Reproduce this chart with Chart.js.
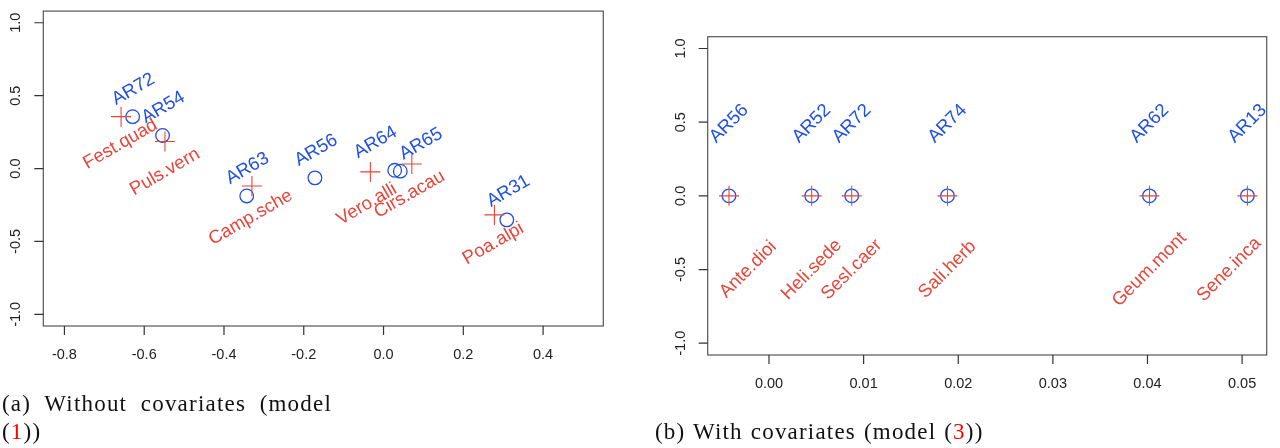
<!DOCTYPE html>
<html lang="en">
<head>
  <meta charset="UTF-8">
  <title>Ordination with and without covariates</title>
  <script src="https://cdn.jsdelivr.net/npm/chart.js"></script>
  <style>
    body {
      margin: 0;
      background: #fff;
      width: 1280px;
      height: 448px;
      overflow: hidden;
      position: relative;
    }
    canvas { position: absolute; top: 0; }
    #plotA { left: 0; }
    #plotB { left: 640px; }
    .caption {
      position: absolute;
      font-family: 'Liberation Serif', 'Times New Roman', serif;
      font-size: 23px;
      line-height: 28px;
      letter-spacing: 1.2px;
      color: #111;
      white-space: nowrap;
    }
    #capA { left: 2px; top: 390px; }
    #capA .l1 { width: 330px; text-align: justify; text-align-last: justify; white-space: normal; }
    #capB { left: 655px; top: 418px; word-spacing: 1px; }
    .ref { color: #ff0000; }
  </style>
</head>
<body>
  <canvas id="plotA" width="640" height="448"></canvas>
  <canvas id="plotB" width="640" height="448"></canvas>
  <div class="caption" id="capA">
    <div class="l1">(a) Without covariates (model</div>
    <div>(<span class="ref">1</span>))</div>
  </div>
  <div class="caption" id="capB">(b) With covariates (model (<span class="ref">3</span>))</div>
  <script>
    // ---- panel (a): without covariates ----
    const siteNamesA = ["AR72", "AR54", "AR63", "AR56", "AR64", "AR65", "AR31"];
    const siteXA = [-0.629, -0.554, -0.343, -0.172, 0.028, 0.042, 0.309];
    const siteYA = [0.356, 0.227, -0.188, -0.064, -0.012, -0.018, -0.352];
    const siteLabelXA = [-0.627, -0.552, -0.341, -0.169, -0.020, 0.094, 0.313];
    const siteLabelYA = [0.543, 0.418, 0.000, 0.125, 0.179, 0.169, -0.155];

    const speciesNamesA = ["Fest.quad", "Puls.vern", "Camp.sche", "Vero.alli", "Cirs.acau", "Poa.alpi"];
    const speciesXA = [-0.658, -0.548, -0.330, -0.033, 0.071, 0.278];
    const speciesYA = [0.356, 0.186, -0.120, -0.023, 0.031, -0.318];
    const speciesLabelXA = [-0.660, -0.548, -0.333, -0.042, 0.065, 0.275];
    const speciesLabelYA = [0.167, -0.023, -0.336, -0.245, -0.177, -0.515];

    const xTicksA = [-0.8, -0.6, -0.4, -0.2, 0.0, 0.2, 0.4];
    const yTicks = [-1.0, -0.5, 0.0, 0.5, 1.0];

    // ---- panel (b): with covariates ----
    const siteNamesB = ["AR56", "AR52", "AR72", "AR74", "AR62", "AR13"];
    const speciesNamesB = ["Ante.dioi", "Heli.sede", "Sesl.caer", "Sali.herb", "Geum.mont", "Sene.inca"];
    const axis1B = [-0.00423, 0.00451, 0.00874, 0.01886, 0.04021, 0.05056];
    const axis2B = [0, 0, 0, 0, 0, 0];
    const siteLabelYB = [0.49, 0.49, 0.49, 0.49, 0.49, 0.49];
    const speciesLabelXB = [-0.0022, 0.00451, 0.00874, 0.01886, 0.04021, 0.04863];
    const speciesLabelYB = [-0.50, -0.50, -0.50, -0.50, -0.50, -0.50];
    const xTicksB = [0.00, 0.01, 0.02, 0.03, 0.04, 0.05];

    const BLUE = "#1f4fe6";
    const RED = "#e8453a";
    const SANS = '"Liberation Sans", Arial, Helvetica, sans-serif';

    // R-style box, ticks and tick labels drawn from the chart's own scales
    function rAxesPlugin(xTicks, xDigits) {
      return {
        id: "rAxes",
        afterDraw(chart) {
          const { ctx, chartArea: a, scales: { x, y } } = chart;
          ctx.save();
          ctx.strokeStyle = "#555";
          ctx.lineWidth = 1.2;
          ctx.strokeRect(a.left, a.top, a.right - a.left, a.bottom - a.top);
          ctx.strokeStyle = "#333";
          ctx.beginPath();
          xTicks.forEach(v => {
            const px = x.getPixelForValue(v);
            ctx.moveTo(px, a.bottom);
            ctx.lineTo(px, a.bottom + 9);
          });
          yTicks.forEach(v => {
            const py = y.getPixelForValue(v);
            ctx.moveTo(a.left, py);
            ctx.lineTo(a.left - 9, py);
          });
          ctx.stroke();
          ctx.font = "14.5px " + SANS;
          ctx.fillStyle = "#222";
          ctx.textAlign = "center";
          ctx.textBaseline = "middle";
          xTicks.forEach(v => ctx.fillText(v.toFixed(xDigits), x.getPixelForValue(v), a.bottom + 29));
          yTicks.forEach(v => {
            ctx.save();
            ctx.translate(a.left - 27, y.getPixelForValue(v));
            ctx.rotate(-Math.PI / 2);
            ctx.fillText(v.toFixed(1), 0, 0);
            ctx.restore();
          });
          ctx.restore();
        }
      };
    }

    // rotated point labels
    function labelPlugin(groups, angle) {
      return {
        id: "pointLabels",
        afterDatasetsDraw(chart) {
          const { ctx, scales: { x, y } } = chart;
          ctx.save();
          ctx.font = "18.5px " + SANS;
          ctx.textAlign = "center";
          ctx.textBaseline = "middle";
          groups.forEach(g => {
            ctx.fillStyle = g.color;
            g.names.forEach((name, i) => {
              ctx.save();
              ctx.translate(x.getPixelForValue(g.xs[i]), y.getPixelForValue(g.ys[i]));
              ctx.rotate(-angle * Math.PI / 180);
              ctx.fillText(name, 0, 0);
              ctx.restore();
            });
          });
          ctx.restore();
        }
      };
    }

    function toPoints(xs, ys) {
      return xs.map((v, i) => ({ x: v, y: ys[i] }));
    }

    function drawPanel(canvasId, cfg) {
      const ctx = document.getElementById(canvasId).getContext("2d");
      return new Chart(ctx, {
        type: "scatter",
        data: {
          datasets: [
            {
              label: "species",
              data: toPoints(cfg.speciesX, cfg.speciesY),
              pointStyle: "cross",
              pointRadius: 10,
              borderColor: RED,
              backgroundColor: RED,
              pointBorderWidth: 1.1
            },
            {
              label: "sites",
              data: toPoints(cfg.siteX, cfg.siteY),
              pointStyle: "circle",
              pointRadius: 6.8,
              borderColor: BLUE,
              backgroundColor: "rgba(0,0,0,0)",
              pointBorderWidth: 1.3
            }
          ]
        },
        options: {
          responsive: false,
          animation: false,
          devicePixelRatio: 1,
          layout: { padding: cfg.padding },
          plugins: { legend: { display: false }, tooltip: { enabled: false } },
          scales: {
            x: { type: "linear", min: cfg.xMin, max: cfg.xMax, display: false },
            y: { type: "linear", min: -1.08, max: 1.08, display: false }
          }
        },
        plugins: [rAxesPlugin(cfg.xTicks, cfg.xDigits), labelPlugin(cfg.labels, cfg.angle)]
      });
    }

    drawPanel("plotA", {
      siteX: siteXA, siteY: siteYA,
      speciesX: speciesXA, speciesY: speciesYA,
      xMin: -0.853, xMax: 0.551,
      xTicks: xTicksA, xDigits: 1,
      padding: { left: 43.3, top: 9, right: 36.7, bottom: 122 },
      angle: 30,
      labels: [
        { names: siteNamesA, xs: siteLabelXA, ys: siteLabelYA, color: BLUE },
        { names: speciesNamesA, xs: speciesLabelXA, ys: speciesLabelYA, color: RED }
      ]
    });

    drawPanel("plotB", {
      siteX: axis1B, siteY: axis2B,
      speciesX: axis1B, speciesY: axis2B,
      xMin: -0.00648, xMax: 0.0526,
      xTicks: xTicksB, xDigits: 2,
      padding: { left: 67.7, top: 36.7, right: 13.3, bottom: 93 },
      angle: 45,
      labels: [
        { names: siteNamesB, xs: axis1B, ys: siteLabelYB, color: BLUE },
        { names: speciesNamesB, xs: speciesLabelXB, ys: speciesLabelYB, color: RED }
      ]
    });
  </script>
</body>
</html>
